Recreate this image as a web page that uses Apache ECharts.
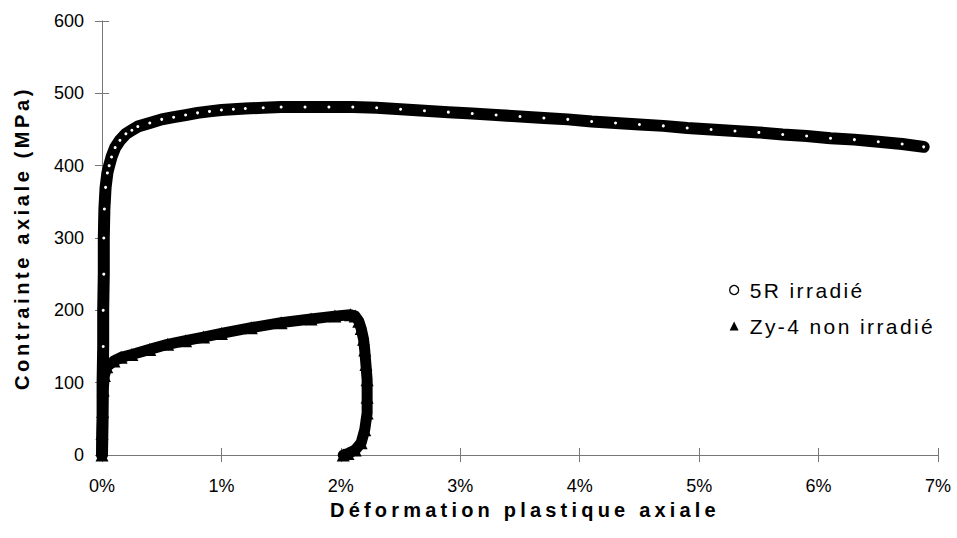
<!DOCTYPE html>
<html>
<head>
<meta charset="utf-8">
<script src="https://cdn.jsdelivr.net/npm/echarts@6/dist/echarts.min.js"></script>
<style>
html,body{margin:0;padding:0;background:#fff;}
#chart{width:957px;height:538px;}
</style>
</head>
<body>
<div id="chart"></div>
<script>
// Axis ticks
const xTicks = [0, 1, 2, 3, 4, 5, 6, 7];           // plastic strain, %
const yTicks = [0, 100, 200, 300, 400, 500, 600];  // stress, MPa

// Series names
const seriesNames = ['5R irradié', 'Zy-4 non irradié'];

// 5R irradié (strain %, stress MPa)
const strainIrr = [0, 0.005, 0.005, 0.01, 0.01, 0.015, 0.015, 0.02, 0.03, 0.045, 0.06, 0.08, 0.11, 0.15, 0.2, 0.25, 0.3, 0.4, 0.5, 0.6, 0.7, 0.8, 0.9, 1.0, 1.1, 1.2, 1.35, 1.5, 1.7, 1.9, 2.1, 2.3, 2.5, 2.7, 2.9, 3.1, 3.3, 3.5, 3.7, 3.9, 4.1, 4.3, 4.5, 4.7, 4.9, 5.1, 5.3, 5.5, 5.7, 5.9, 6.1, 6.3, 6.5, 6.7, 6.88];
const stressIrr = [0, 50, 100, 150, 200, 250, 300, 340, 370, 390, 400, 412, 425, 435, 444, 449, 454, 459, 464, 467, 470, 473, 475, 477, 478, 479, 480, 481, 481, 481, 481, 480, 478, 476, 474, 472, 470, 468, 466, 464, 461, 459, 457, 455, 452, 450, 448, 446, 443, 441, 438, 436, 433, 430, 426];

// Zy-4 non irradié (strain %, stress MPa)
const strainZy = [0, 0, 0.005, 0.01, 0.02, 0.04, 0.1, 0.16, 0.25, 0.4, 0.55, 0.7, 0.85, 1.0, 1.25, 1.5, 1.75, 1.95, 2.08, 2.12, 2.15, 2.17, 2.19, 2.2, 2.21, 2.22, 2.22, 2.22, 2.2, 2.17, 2.12, 2.06, 2.02];
const stressZy = [0, 30, 60, 90, 110, 122, 130, 135, 139, 146, 153, 158, 163, 168, 176, 183, 188, 192, 194, 192, 185, 175, 160, 145, 125, 104, 80, 58, 35, 17, 7, 2, 0];

const zip = (xs, ys) => xs.map((x, i) => [x, ys[i]]);

const FONT = '"Liberation Sans", Arial, sans-serif';
const axisColor = '#777';

const xMin = xTicks[0], xMax = xTicks[xTicks.length - 1], xInt = xTicks[1] - xTicks[0];
const yMin = yTicks[0], yMax = yTicks[yTicks.length - 1], yInt = yTicks[1] - yTicks[0];

const chart = echarts.init(document.getElementById('chart'), null, {renderer: 'svg'});

const option = {
  animation: false,
  backgroundColor: '#fff',
  grid: {left: 102, right: 19, top: 21, bottom: 83, containLabel: false},
  legend: {
    orient: 'vertical',
    left: 724,
    top: 274,
    itemWidth: 9,
    itemHeight: 9,
    itemGap: 14,
    textStyle: {fontFamily: FONT, fontSize: 21, color: '#000', lineHeight: 22, padding: [0, 0, 0, 6]},
    data: [
      {name: seriesNames[0], icon: 'circle', itemStyle: {color: '#fff', borderColor: '#000', borderWidth: 1.3}},
      {name: seriesNames[1], icon: 'triangle', itemStyle: {color: '#000', borderWidth: 0}}
    ]
  },
  xAxis: [{
    type: 'value', min: xMin, max: xMax, interval: xInt,
    name: 'Déformation plastique axiale',
    nameLocation: 'middle', nameGap: 40,
    nameTextStyle: {fontFamily: FONT, fontSize: 20, fontWeight: 'bold', color: '#000', padding: [0, 0, 0, 10]},
    axisLine: {show: true, onZero: false, lineStyle: {color: axisColor, width: 1}},
    axisTick: {show: true, length: 7, lineStyle: {color: axisColor}},
    axisLabel: {fontFamily: FONT, fontSize: 18, color: '#000', margin: 22, formatter: v => v + '%'},
    splitLine: {show: false}
  }, {
    type: 'value', min: xMin, max: xMax, interval: xInt, position: 'bottom',
    axisLine: {show: false}, axisLabel: {show: false}, splitLine: {show: false},
    axisTick: {show: true, inside: true, length: 7, lineStyle: {color: axisColor}}
  }],
  yAxis: [{
    type: 'value', min: yMin, max: yMax, interval: yInt,
    name: 'Contrainte axiale (MPa)',
    nameLocation: 'middle', nameGap: 70, nameRotate: 90,
    nameTextStyle: {fontFamily: FONT, fontSize: 20, fontWeight: 'bold', color: '#000'},
    axisLine: {show: true, onZero: false, lineStyle: {color: axisColor, width: 1}},
    axisTick: {show: true, length: 7, lineStyle: {color: axisColor}},
    axisLabel: {fontFamily: FONT, fontSize: 18, color: '#000', margin: 18},
    splitLine: {show: false}
  }, {
    type: 'value', min: yMin, max: yMax, interval: yInt, position: 'left',
    axisLine: {show: false}, axisLabel: {show: false}, splitLine: {show: false},
    axisTick: {show: true, inside: true, length: 7, lineStyle: {color: axisColor}}
  }],
  series: [{
    name: seriesNames[0],
    type: 'line',
    xAxisIndex: 0, yAxisIndex: 0,
    data: zip(strainIrr, stressIrr),
    symbol: 'emptyCircle',
    symbolSize: 5,
    showAllSymbol: true,
    itemStyle: {color: '#000', borderColor: '#000', borderWidth: 2},
    lineStyle: {color: '#000', width: 12, cap: 'round', join: 'round'},
    emphasis: {disabled: true},
    z: 2
  }, {
    name: seriesNames[1],
    type: 'line',
    xAxisIndex: 0, yAxisIndex: 0,
    data: zip(strainZy, stressZy),
    symbol: 'triangle',
    symbolSize: 13,
    showAllSymbol: true,
    itemStyle: {color: '#000', borderWidth: 0},
    lineStyle: {color: '#000', width: 11, cap: 'round', join: 'round'},
    emphasis: {disabled: true},
    z: 3
  }]
};

chart.setOption(option);

const spacing = {
  'Déformation plastique axiale': 4.2,
  'Contrainte axiale (MPa)': 3.6,
  '5R irradié': 2.4,
  'Zy-4 non irradié': 2.4
};
function applySpacing() {
  document.querySelectorAll('#chart text').forEach(t => {
    const s = spacing[t.textContent];
    if (s) t.style.letterSpacing = s + 'px';
  });
}
chart.on('finished', applySpacing);
applySpacing();
setTimeout(applySpacing, 0);
setTimeout(applySpacing, 100);
</script>
</body>
</html>
